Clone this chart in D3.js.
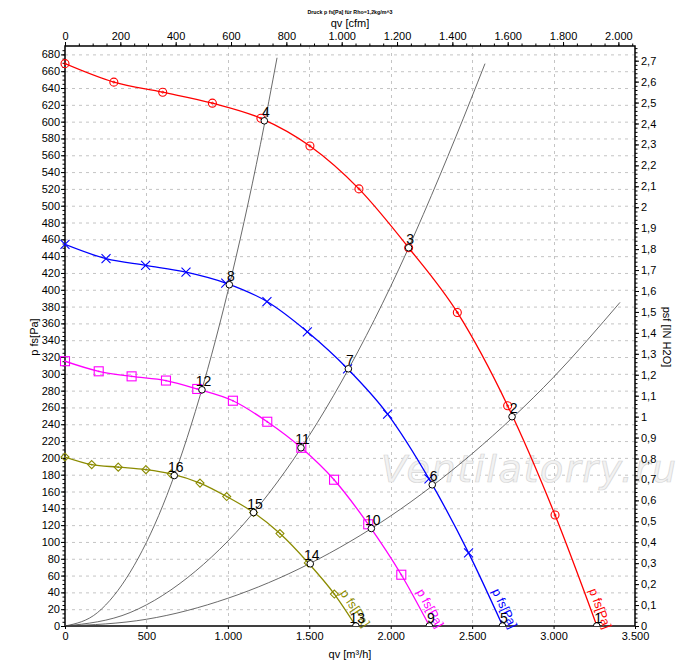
<!DOCTYPE html>
<html><head><meta charset="utf-8">
<script src="https://cdn.jsdelivr.net/npm/d3@7"></script>
<style>
body{margin:0;background:#fff}
svg{display:block}
text{font-family:"Liberation Sans",Arial,sans-serif}
</style>
</head><body>
<svg id="c" width="700" height="663"></svg>
<script>
// ---------- data ----------
const redQ = [0, 300, 600, 905, 1203, 1504, 1805, 2110, 2409, 2718, 3009, 3266];
const redP = [669, 647, 635, 622, 604, 571, 520, 450, 373, 262, 132, 0];
const blueQ = [0, 252, 495, 743, 987, 1240, 1488, 1735, 1981, 2235, 2478, 2688];
const blueP = [454, 437, 429, 421, 408, 386, 350, 306, 252, 175, 87, 0];
const magQ = [0, 207, 409, 620, 812, 1031, 1242, 1451, 1652, 1862, 2065, 2238];
const magP = [315, 303, 297, 292, 282, 268, 243, 212, 174, 121, 61, 0];
const oliveQ = [0, 164, 327, 497, 652, 829, 993, 1158, 1320, 1494, 1654, 1786];
const oliveP = [201, 192, 189, 186, 181, 170, 154, 135, 110, 75, 38, 0];

// system (resistance) curves
const sysAQ = [0, 200, 400, 600, 800, 1000, 1200, 1302];
const sysAP = [0, 16, 64, 143, 255, 398, 573, 676];
const sysBQ = [0, 400, 800, 1200, 1600, 2000, 2400, 2579];
const sysBP = [0, 16, 65, 145, 258, 404, 582, 669];
const sysCQ = [0, 500, 1000, 1500, 2000, 2500, 3000, 3408];
const sysCP = [0, 8, 33, 74, 131, 205, 296, 385];

// operating points
const opNum = [1, 2, 3, 4, 5, 6, 7, 8, 9, 10, 11, 12, 13, 14, 15, 16];
const opQ = [3265, 2745, 2110, 1224, 2686, 2255, 1740, 1009, 2237, 1881, 1449, 841, 1786, 1506, 1158, 671];
const opP = [0, 249, 450, 601, 0, 168, 306, 406, 0, 116, 212, 281, 0, 74, 135, 179];

// ticks
const qTicks = [0, 500, 1000, 1500, 2000, 2500, 3000, 3500];
const cfmTicks = [0, 200, 400, 600, 800, 1000, 1200, 1400, 1600, 1800, 2000];
const pTicks = d3.range(0, 681, 20);
const inTicks = d3.range(0, 28).map(i => i / 10);

const title = "Druck p fs[Pa] für Rho=1,2kg/m^3";
const curveLabel = "p  fs[Pa]";

// ---------- setup ----------
const L = 65, R = 635, T = 46, B = 626;
const M3H_PER_CFM = 1.699, PA_PER_INH2O = 249.089;
const svg = d3.select("#c");
const x = d3.scaleLinear().domain([0, 3500]).range([L, R]);
const y = d3.scaleLinear().domain([0, 690]).range([B, T]);
const xc = d3.scaleLinear().domain([0, 3500 / M3H_PER_CFM]).range([L, R]);
const yi = d3.scaleLinear().domain([0, 690 / PA_PER_INH2O]).range([B, T]);
const loc = d3.formatLocale({decimal: ",", thousands: ".", grouping: [3], currency: ["", ""]});
const fInt = loc.format(",d");
const fDec = loc.format(".1~f");

svg.append("defs").append("clipPath").attr("id", "pc")
  .append("rect").attr("x", L).attr("y", T).attr("width", R - L).attr("height", B - T);

// grid
const grid = svg.append("g").attr("stroke", "#c4c4c4").attr("stroke-dasharray", "3,4").attr("stroke-width", 1);
grid.selectAll("line.h").data(pTicks.filter(d => d > 0)).join("line")
  .attr("x1", L).attr("x2", R).attr("y1", d => y(d) + 0.5).attr("y2", d => y(d) + 0.5);
grid.selectAll("line.v").data(qTicks.filter(d => d > 0 && d < 3500)).join("line")
  .attr("y1", T).attr("y2", B).attr("x1", d => Math.round(x(d)) + 0.5).attr("x2", d => Math.round(x(d)) + 0.5);

// watermark
svg.append("text").attr("x", 381).attr("y", 482)
  .attr("textLength", 295)
  .style("font-family", "'DejaVu Sans',Verdana,sans-serif").style("font-style", "oblique")
  .attr("font-size", 38).attr("fill", "#f2f2f2").attr("stroke", "#d6d6d6").attr("stroke-width", 0.7)
  .text("Ventilatorry.ru");

// axes
function styleAxis(g) {
  g.select(".domain").remove();
  g.selectAll("line").attr("stroke", "#000");
  g.selectAll("text").attr("font-size", 11).attr("fill", "#000")
    .style("font-family", "'Liberation Sans',Arial,sans-serif");
}
// left
svg.append("g").attr("transform", `translate(${L},0)`)
  .call(d3.axisLeft(y).tickValues(d3.range(0, 690, 5)).tickSize(2.5).tickFormat(""))
  .call(styleAxis);
svg.append("g").attr("transform", `translate(${L},0)`)
  .call(d3.axisLeft(y).tickValues(pTicks).tickSize(4).tickPadding(1).tickFormat(d => d))
  .call(styleAxis);
// right
svg.append("g").attr("transform", `translate(${R},0)`)
  .call(d3.axisRight(yi).tickValues(d3.range(0, 139).map(i => i / 50)).tickSize(2.5).tickFormat(""))
  .call(styleAxis);
svg.append("g").attr("transform", `translate(${R},0)`)
  .call(d3.axisRight(yi).tickValues(inTicks).tickSize(4).tickPadding(2).tickFormat(fDec))
  .call(styleAxis);
// bottom
svg.append("g").attr("transform", `translate(0,${B})`)
  .call(d3.axisBottom(x).tickValues(qTicks).tickSize(3).tickPadding(3).tickFormat(fInt))
  .call(styleAxis);
// top
svg.append("g").attr("transform", `translate(0,${T})`)
  .call(d3.axisTop(xc).tickValues(d3.range(0, 2051, 50)).tickSize(2.5).tickFormat(""))
  .call(styleAxis);
svg.append("g").attr("transform", `translate(0,${T})`)
  .call(d3.axisTop(xc).tickValues(cfmTicks).tickSize(4).tickPadding(2).tickFormat(fInt))
  .call(styleAxis);

// frame
svg.append("rect").attr("x", L).attr("y", T).attr("width", R - L).attr("height", B - T)
  .attr("fill", "none").attr("stroke", "#000").attr("stroke-width", 1.5);

// titles
svg.append("text").attr("x", 350).attr("y", 14).attr("text-anchor", "middle")
  .attr("font-size", 5.3).attr("font-weight", "bold").text(title);
svg.append("text").attr("x", 350).attr("y", 27).attr("text-anchor", "middle")
  .attr("font-size", 11).text("qv [cfm]");
svg.append("text").attr("x", 350).attr("y", 658).attr("text-anchor", "middle")
  .attr("font-size", 11).text("qv [m³/h]");
svg.append("text").attr("transform", "translate(38,337) rotate(-90)").attr("text-anchor", "middle")
  .attr("font-size", 11).text("p  fs[Pa]");
svg.append("text").attr("transform", "translate(663,337) rotate(90)").attr("text-anchor", "middle")
  .attr("font-size", 11).text("psf [IN H2O]");

// system curves
const line = d3.line().x(d => x(d[0])).y(d => y(d[1])).curve(d3.curveMonotoneX);
const zip = (a, b) => a.map((v, i) => [v, b[i]]);
const plot = svg.append("g").attr("clip-path", "url(#pc)");
[[sysAQ, sysAP], [sysBQ, sysBP], [sysCQ, sysCP]].forEach(([q, p]) => {
  plot.append("path").attr("d", line(zip(q, p))).attr("fill", "none")
    .attr("stroke", "#444").attr("stroke-width", 0.8);
});

// fan curves
const series = [
  {q: redQ, p: redP, color: "#ff0000", marker: "circle"},
  {q: blueQ, p: blueP, color: "#0000ff", marker: "cross"},
  {q: magQ, p: magP, color: "#ff00ff", marker: "square"},
  {q: oliveQ, p: oliveP, color: "#8b8b00", marker: "diamond"}
];
series.forEach(s => {
  const pts = zip(s.q, s.p);
  plot.append("path").attr("d", line(pts)).attr("fill", "none")
    .attr("stroke", s.color).attr("stroke-width", 1.3);
  const g = svg.append("g").attr("stroke", s.color).attr("fill", "none").attr("stroke-width", 1.1);
  pts.slice(0, -1).forEach(d => {
    const cx = x(d[0]), cy = y(d[1]);
    if (s.marker === "circle") {
      g.append("circle").attr("cx", cx).attr("cy", cy).attr("r", 4);
      g.append("circle").attr("cx", cx).attr("cy", cy).attr("r", 1).attr("stroke-width", 0.8);
    } else if (s.marker === "cross") {
      const h = 4.5;
      g.append("path").attr("d", `M${cx - h},${cy - h}L${cx + h},${cy + h}M${cx - h},${cy + h}L${cx + h},${cy - h}`);
    } else if (s.marker === "square") {
      const h = 4.5;
      g.append("rect").attr("x", cx - h).attr("y", cy - h).attr("width", 2 * h).attr("height", 2 * h);
      g.append("circle").attr("cx", cx).attr("cy", cy).attr("r", 0.9).attr("fill", s.color).attr("stroke", "none");
    } else {
      const h = 4;
      g.append("path").attr("d", `M${cx},${cy - h}L${cx + h},${cy}L${cx},${cy + h}L${cx - h},${cy}Z`);
      g.append("circle").attr("cx", cx).attr("cy", cy).attr("r", 0.9).attr("fill", s.color).attr("stroke", "none");
    }
  });
  // rotated label along the last segment
  const n = pts.length;
  const ax = x(pts[n - 2][0]), ay = y(pts[n - 2][1]);
  const bx = x(pts[n - 1][0]), by = y(pts[n - 1][1]);
  const len = Math.hypot(bx - ax, by - ay);
  const dx = (bx - ax) / len, dy = (by - ay) / len;
  const ang = Math.atan2(dy, dx) * 180 / Math.PI;
  const ex = bx + dx * 6 + dy * 5, ey = by + dy * 6 - dx * 5;
  svg.append("text").attr("transform", `translate(${ex},${ey}) rotate(${ang})`)
    .attr("text-anchor", "end").attr("font-size", 12.5).attr("fill", s.color).text(curveLabel);
});

// operating points
const op = svg.append("g").attr("clip-path", "url(#pc)");
opNum.forEach((num, i) => {
  op.append("circle").attr("cx", x(opQ[i])).attr("cy", y(opP[i])).attr("r", 3.3)
    .attr("fill", "#fff").attr("stroke", "#000").attr("stroke-width", 1);
});
opNum.forEach((num, i) => {
  svg.append("text").attr("x", x(opQ[i]) + 1.5).attr("y", y(opP[i]) - 3.5)
    .attr("text-anchor", "middle").attr("font-size", 14).attr("fill", "#000").text(num);
});
</script>
</body></html>
